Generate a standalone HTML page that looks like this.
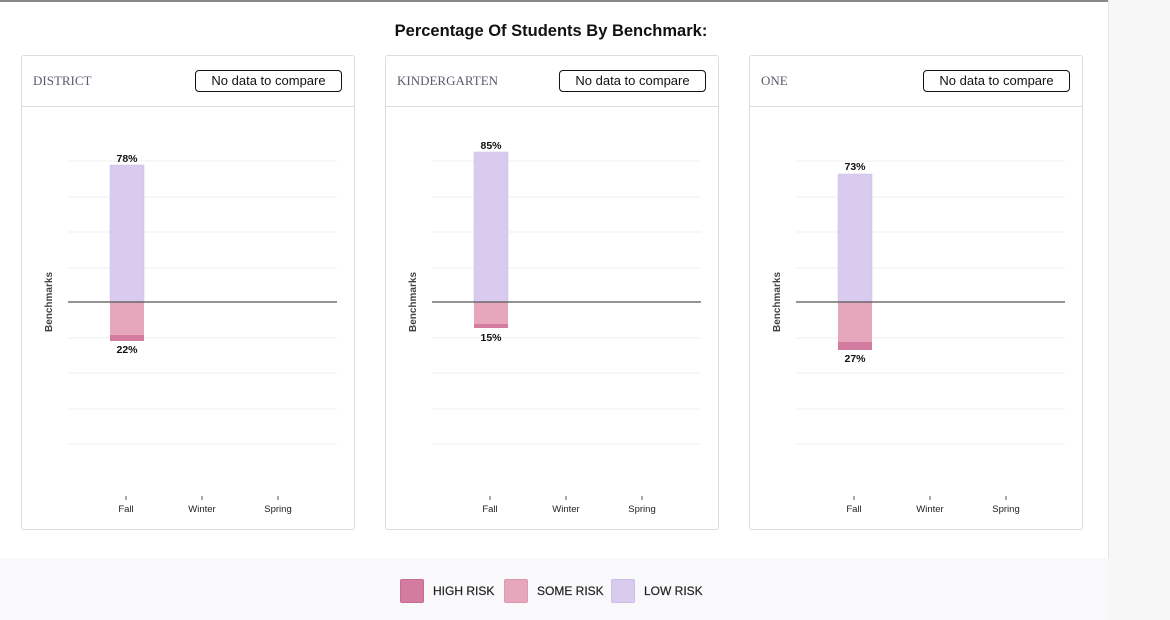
<!DOCTYPE html>
<html><head><style>
body{margin:0;width:1170px;height:620px;position:relative;background:#f7f7f7;font-family:"Liberation Sans",sans-serif;overflow:hidden}
.main{position:absolute;left:0;top:0;width:1108px;height:558px;background:#fff;border-right:1px solid #e6e6e6}
.topline{position:absolute;left:0;top:0;width:1108px;height:2px;background:#888}
.title{position:absolute;top:22px;left:0;width:1102px;text-align:center;font-size:16.5px;font-weight:bold;color:#111}
.card{position:absolute;top:55px;width:332px;height:473px;border:1px solid #ddd;border-radius:3px;background:#fff}
.hdr{position:absolute;left:0;top:0;right:0;height:50px;border-bottom:1px solid #ddd}
.name{position:absolute;left:11px;top:17px;font-family:"Liberation Serif",serif;font-size:13px;color:#5a5a6e}
.btn{position:absolute;left:173px;top:14px;width:145px;height:20px;border:1px solid #111;border-radius:4px;font-size:13px;text-align:center;line-height:20px;color:#111}
.legend{position:absolute;left:0;top:558px;width:1108px;height:62px;background:#f9f9fb}
.lg{position:absolute;top:21px;font-size:12px;color:#222;line-height:25px;-webkit-text-stroke:0.2px #222}
.sw{position:absolute;top:21px;width:24px;height:24px;border-radius:2px}
</style></head><body>
<div class="main"><div class="topline"></div>
<div class="title">Percentage Of Students By Benchmark:</div>
</div>
<div class="legend">
<div class="sw" style="left:400px;background:#d47ca0;border:1px solid #c86a92;box-sizing:border-box"></div><div class="lg" style="left:433px">HIGH RISK</div>
<div class="sw" style="left:504px;background:#e6a7bc;border:1px solid #dd98b0;box-sizing:border-box"></div><div class="lg" style="left:537px">SOME RISK</div>
<div class="sw" style="left:611px;background:#d8cbee;border:1px solid #cdbde8;box-sizing:border-box"></div><div class="lg" style="left:644px">LOW RISK</div>
</div>

<div class="card" style="left:21px"><div class="hdr"><div class="name">DISTRICT</div><div class="btn">No data to compare</div></div></div>
<div class="card" style="left:385px"><div class="hdr"><div class="name">KINDERGARTEN</div><div class="btn">No data to compare</div></div></div>
<div class="card" style="left:749px"><div class="hdr"><div class="name">ONE</div><div class="btn">No data to compare</div></div></div>

<svg width="1170" height="620" style="position:absolute;left:0;top:0" font-family="Liberation Sans, sans-serif">
<defs>
<g id="grid">
<g stroke="#efefef" stroke-width="1">
<line x1="68" x2="337" y1="161" y2="161"/><line x1="68" x2="337" y1="197" y2="197"/>
<line x1="68" x2="337" y1="232" y2="232"/><line x1="68" x2="337" y1="268" y2="268"/>
<line x1="68" x2="337" y1="338" y2="338"/><line x1="68" x2="337" y1="373" y2="373"/>
<line x1="68" x2="337" y1="409" y2="409"/><line x1="68" x2="337" y1="444" y2="444"/>
</g>
<g stroke="#555" stroke-width="1"><line x1="126" x2="126" y1="496" y2="500"/><line x1="202" x2="202" y1="496" y2="500"/><line x1="278" x2="278" y1="496" y2="500"/></g>
<g font-size="9.5" fill="#222" text-anchor="middle"><text x="126" y="512">Fall</text><text x="202" y="512">Winter</text><text x="278" y="512">Spring</text></g>
<text transform="translate(52,302) rotate(-90)" font-size="10" font-weight="bold" fill="#444" text-anchor="middle">Benchmarks</text>
</g>
</defs>
<g>
<use href="#grid"/>
<rect x="110" y="165" width="34" height="137" fill="#d8cbee" stroke="#cdbde8" stroke-width="0.5"/>
<rect x="110" y="302" width="34" height="33" fill="#e6a7bc"/>
<rect x="110" y="335" width="34" height="6" fill="#d47ca0"/>
<line x1="68" x2="337" y1="302" y2="302" stroke="#555" stroke-width="1.3"/>
<text x="127" y="162" font-size="10.5" font-weight="bold" text-anchor="middle" fill="#111">78%</text>
<text x="127" y="353" font-size="10.5" font-weight="bold" text-anchor="middle" fill="#111">22%</text>
</g>
<g transform="translate(364,0)">
<use href="#grid"/>
<rect x="110" y="152" width="34" height="150" fill="#d8cbee" stroke="#cdbde8" stroke-width="0.5"/>
<rect x="110" y="302" width="34" height="22" fill="#e6a7bc"/>
<rect x="110" y="324" width="34" height="4" fill="#d47ca0"/>
<line x1="68" x2="337" y1="302" y2="302" stroke="#555" stroke-width="1.3"/>
<text x="127" y="149" font-size="10.5" font-weight="bold" text-anchor="middle" fill="#111">85%</text>
<text x="127" y="341" font-size="10.5" font-weight="bold" text-anchor="middle" fill="#111">15%</text>
</g>
<g transform="translate(728,0)">
<use href="#grid"/>
<rect x="110" y="174" width="34" height="128" fill="#d8cbee" stroke="#cdbde8" stroke-width="0.5"/>
<rect x="110" y="302" width="34" height="40" fill="#e6a7bc"/>
<rect x="110" y="342" width="34" height="8" fill="#d47ca0"/>
<line x1="68" x2="337" y1="302" y2="302" stroke="#555" stroke-width="1.3"/>
<text x="127" y="170" font-size="10.5" font-weight="bold" text-anchor="middle" fill="#111">73%</text>
<text x="127" y="362" font-size="10.5" font-weight="bold" text-anchor="middle" fill="#111">27%</text>
</g>
</svg>
</body></html>
